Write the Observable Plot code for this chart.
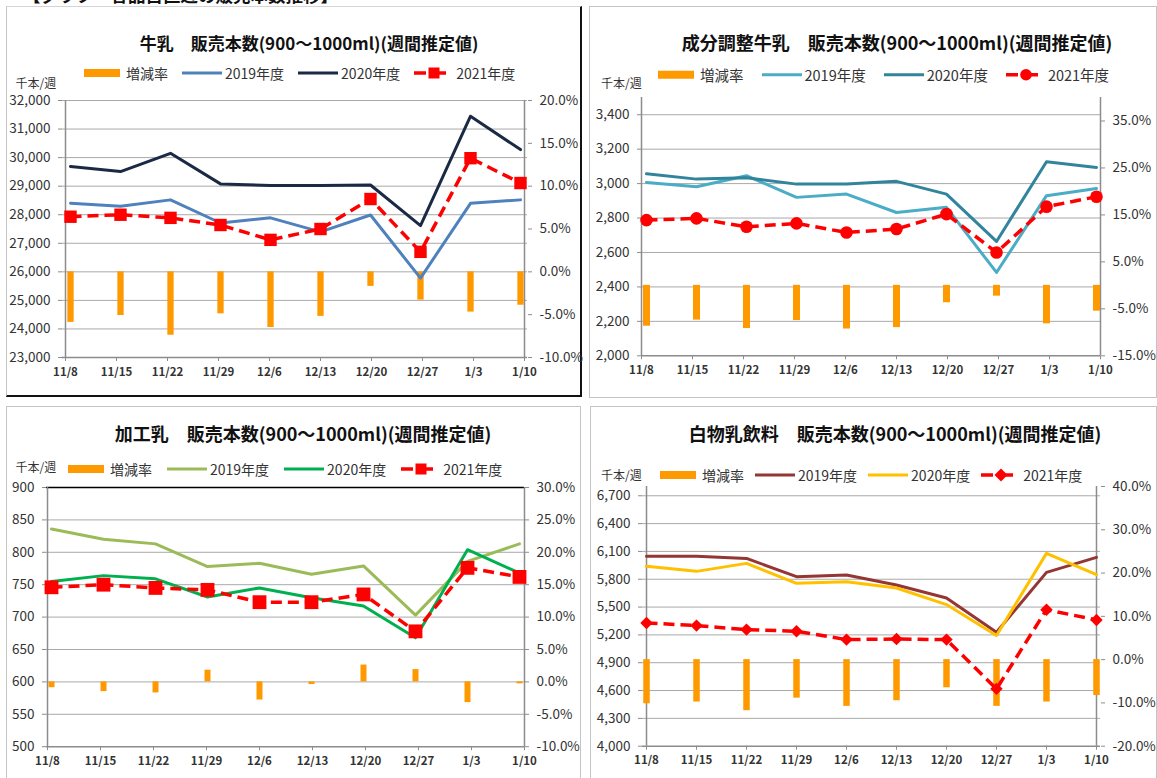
<!DOCTYPE html>
<html><head><meta charset="utf-8">
<script src="https://cdn.jsdelivr.net/npm/d3@7"></script>
<script src="https://cdn.jsdelivr.net/npm/@observablehq/plot@0.6"></script>
<style>
html,body{margin:0;padding:0;background:#fff;}
body{width:1157px;height:778px;overflow:hidden;position:relative;font-family:"Noto Sans CJK JP","Noto Sans",sans-serif;}
#root{position:absolute;left:0;top:0;width:1157px;height:778px;}
#header{position:absolute;left:23px;top:-14px;font-size:17.5px;font-weight:bold;line-height:18px;white-space:nowrap;color:#111;}
.panel{position:absolute;box-sizing:border-box;background:#fff;border:1px solid #c4c4c4;}
.panel.p1{border-right:2px solid #111;border-bottom:2px solid #111;border-top:1px solid #d4d4d4;border-left:1px solid #c4c4c4;}
.title{position:absolute;font-weight:bold;font-size:18px;white-space:nowrap;transform:translate(-50%,-50%);color:#111;line-height:1;}
.legend{position:absolute;display:flex;align-items:center;font-size:14px;white-space:nowrap;transform:translateY(-50%);color:#333;line-height:1;}
.legend .item{display:flex;align-items:center;}
.legend svg{display:block;}
.unit{position:absolute;font-size:12px;transform:translateY(-50%);color:#333;white-space:nowrap;line-height:1;}
.layer{position:absolute;}
.layer svg{overflow:visible;max-width:none;}
</style></head><body>
<div id="header">【グラフ　各品目直近の販売本数推移】</div>
<div id="root"></div>
<script>
// ---------- data ----------
const weeks = ["11/8", "11/15", "11/22", "11/29", "12/6", "12/13", "12/20", "12/27", "1/3", "1/10"];
const seriesNames = ["増減率", "2019年度", "2020年度", "2021年度"];

// 牛乳
const milk2019 = [28400, 28300, 28520, 27710, 27890, 27400, 27990, 25780, 28400, 28520];
const milk2020 = [29690, 29510, 30150, 29080, 29020, 29020, 29040, 27620, 31450, 30280];
const milk2021 = [27930, 28000, 27890, 27640, 27120, 27500, 28550, 26700, 29980, 29110];
const milkRate = [-5.9, -5.1, -7.4, -4.9, -6.5, -5.2, -1.7, -3.3, -4.7, -3.9];
const milkLeftTicks = [23000, 24000, 25000, 26000, 27000, 28000, 29000, 30000, 31000, 32000];
const milkRightTicks = [-10, -5, 0, 5, 10, 15, 20];

// 成分調整牛乳
const adj2019 = [3007, 2982, 3046, 2920, 2939, 2832, 2862, 2484, 2930, 2972];
const adj2020 = [3057, 3026, 3034, 2997, 2997, 3013, 2939, 2664, 3127, 3094];
const adj2021 = [2788, 2798, 2749, 2769, 2716, 2736, 2823, 2600, 2866, 2924];
const adjRate = [-8.7, -7.4, -9.2, -7.5, -9.3, -9.0, -3.7, -2.3, -8.2, -5.5];
const adjLeftTicks = [2000, 2200, 2400, 2600, 2800, 3000, 3200, 3400];
const adjRightTicks = [-15, -5, 5, 15, 25, 35];

// 加工乳
const proc2019 = [836, 820, 813, 778, 783, 766, 779, 703, 786, 813];
const proc2020 = [755, 764, 759, 731, 745, 730, 717, 668, 804, 768];
const proc2021 = [746, 750, 745, 742, 723, 723, 735, 678, 776, 762];
const procRate = [-0.9, -1.5, -1.7, 1.8, -2.8, -0.4, 2.6, 1.9, -3.2, -0.3];
const procLeftTicks = [500, 550, 600, 650, 700, 750, 800, 850, 900];
const procRightTicks = [-10, -5, 0, 5, 10, 15, 20, 25, 30];

// 白物乳飲料
const bev2019 = [6047, 6047, 6025, 5828, 5846, 5738, 5598, 5228, 5874, 6036];
const bev2020 = [5939, 5885, 5971, 5756, 5774, 5706, 5527, 5193, 6079, 5849];
const bev2021 = [5329, 5300, 5257, 5239, 5149, 5156, 5149, 4618, 5472, 5361];
const bevRate = [-10.2, -9.8, -11.8, -8.9, -10.8, -9.5, -6.5, -10.8, -9.8, -8.3];
const bevLeftTicks = [4000, 4300, 4600, 4900, 5200, 5500, 5800, 6100, 6400, 6700];
const bevRightTicks = [-20, -10, 0, 10, 20, 30, 40];

// ---------- styles / layout ----------
const FONT = '"Noto Sans CJK JP", "Noto Sans", sans-serif';
const ORANGE = "#FF9900", RED = "#FF0000", GRID = "#A9A9A9", AXIS = "#8C8C8C", TEXT = "#333333";
const ML = 70, MR = 70, MT = 14, MB = 30;

const panels = [
  {title: "牛乳　販売本数(900～1000ml)(週間推定値)", titleSize: 17, s: [milk2019, milk2020, milk2021], rate: milkRate,
   colors: ["#4F81BD", "#1B2A44"], symbol: "square", r: 7,
   leftDomain: [23000, 32000], leftTicks: milkLeftTicks, rightDomain: [-10, 20], rightTicks: milkRightTicks, topRule: false,
   box: [6, 6, 576, 391], cls: "p1", plot: [62, 527, 100, 357], barW: 6.3,
   titleXY: [309, 41.7], legendXY: [84, 72.7], legendGap: 14, legendSize: 14, unitXY: [15.5, 83]},
  {title: "成分調整牛乳　販売本数(900～1000ml)(週間推定値)", titleSize: 18, s: [adj2019, adj2020, adj2021], rate: adjRate,
   colors: ["#4BACC6", "#31849B"], symbol: "circle", r: 6.3,
   leftDomain: [2000, 3500], leftTicks: adjLeftTicks, rightDomain: [-15, 40], rightTicks: adjRightTicks, topRule: false,
   box: [589, 6, 568, 392], cls: "", plot: [640.5, 1099.5, 96.7, 355], barW: 7,
   titleXY: [897, 41.7], legendXY: [658, 75], legendGap: 18, legendSize: 14.5, unitXY: [601, 82.7]},
  {title: "加工乳　販売本数(900～1000ml)(週間推定値)", titleSize: 18, s: [proc2019, proc2020, proc2021], rate: procRate,
   colors: ["#9BBB59", "#00B050"], symbol: "square", r: 7.8,
   leftDomain: [500, 900], leftTicks: procLeftTicks, rightDomain: [-10, 30], rightTicks: procRightTicks, topRule: true,
   box: [6, 406, 575, 390], cls: "", plot: [45.5, 523.5, 486.5, 745.7], barW: 6,
   titleXY: [303, 433.3], legendXY: [68, 469], legendGap: 15, legendSize: 14, unitXY: [15.5, 467]},
  {title: "白物乳飲料　販売本数(900～1000ml)(週間推定値)", titleSize: 18, s: [bev2019, bev2020, bev2021], rate: bevRate,
   colors: ["#943634", "#FFC000"], symbol: "diamond2", r: 5.6,
   leftDomain: [4000, 6800], leftTicks: bevLeftTicks, rightDomain: [-20, 40], rightTicks: bevRightTicks, topRule: false,
   box: [590, 406, 567, 390], cls: "", plot: [641.5, 1099.5, 486, 745.7], barW: 6.5,
   titleXY: [895, 433], legendXY: [660, 475], legendGap: 11, legendSize: 14, unitXY: [601, 475]}
];

const root = document.getElementById("root");

function el(tag, cls, css, html) {
  const e = document.createElement(tag);
  if (cls) e.className = cls;
  Object.assign(e.style, css || {});
  if (html != null) e.innerHTML = html;
  root.appendChild(e);
  return e;
}

function markerSVG(symbol, cx, cy, color) {
  if (symbol === "square") return `<rect x="${cx - 5.5}" y="${cy - 5.5}" width="11" height="11" fill="${color}"/>`;
  if (symbol === "circle") return `<circle cx="${cx}" cy="${cy}" r="5.8" fill="${color}"/>`;
  return `<polygon points="${cx},${cy - 6.5} ${cx + 6.5},${cy} ${cx},${cy + 6.5} ${cx - 6.5},${cy}" fill="${color}"/>`;
}

function legendHTML(p) {
  const g = p.legendGap;
  const items = [];
  items.push(`<div class="item" style="margin-right:${g}px"><svg width="36" height="14" style="margin-right:6px"><rect x="0" y="3" width="36" height="8" fill="${ORANGE}"/></svg><span>${seriesNames[0]}</span></div>`);
  items.push(`<div class="item" style="margin-right:${g}px"><svg width="40" height="14" style="margin-right:3px"><line x1="0" x2="40" y1="7" y2="7" stroke="${p.colors[0]}" stroke-width="3"/></svg><span>${seriesNames[1]}</span></div>`);
  items.push(`<div class="item" style="margin-right:${g}px"><svg width="40" height="14" style="margin-right:3px"><line x1="0" x2="40" y1="7" y2="7" stroke="${p.colors[1]}" stroke-width="3"/></svg><span>${seriesNames[2]}</span></div>`);
  items.push(`<div class="item"><svg width="40" height="14" style="margin-right:2px"><line x1="0" x2="40" y1="7" y2="7" stroke="${RED}" stroke-width="3.5" stroke-dasharray="12,8"/>${markerSVG(p.symbol, 20, 7, RED)}</svg><span>${seriesNames[3]}</span></div>`);
  return items.join("");
}

function addLayer(p, opts) {
  const [x0, x1, y0, y1] = p.plot;
  const W = x1 - x0 + ML + MR, H = y1 - y0 + MT + MB;
  const svg = Plot.plot(Object.assign({
    width: W, height: H, marginLeft: ML, marginRight: MR, marginTop: MT, marginBottom: MB,
    style: {background: "transparent", fontFamily: FONT, fontSize: "13.5px", color: TEXT, overflow: "visible", maxWidth: "none"}
  }, opts));
  const div = el("div", "layer", {left: (x0 - ML) + "px", top: (y0 - MT) + "px", width: W + "px", height: H + "px"});
  div.appendChild(svg);
}

for (const p of panels) {
  const [bx, by, bw, bh] = p.box;
  el("div", "panel " + p.cls, {left: bx + "px", top: by + "px", width: bw + "px", height: bh + "px"});
  el("div", "title", {left: p.titleXY[0] + "px", top: p.titleXY[1] + "px", fontSize: p.titleSize + "px"}, p.title);
  el("div", "unit", {left: p.unitXY[0] + "px", top: p.unitXY[1] + "px"}, "千本/週");
  el("div", "legend", {left: p.legendXY[0] + "px", top: p.legendXY[1] + "px", fontSize: p.legendSize + "px"}, legendHTML(p));

  const lineData = p.s.map(arr => weeks.map((w, i) => ({week: w, value: arr[i]})));
  const rateData = weeks.map((w, i) => ({week: w, rate: p.rate[i]}));
  const inset = p.barW / 2 + 0.4;

  // Layer A: gridlines, axis lines, left axis, category axis
  addLayer(p, {
    x: {type: "point", domain: weeks, padding: 0},
    y: {domain: p.leftDomain},
    marks: [
      Plot.ruleY(p.leftTicks.slice(1), {stroke: GRID, strokeWidth: 1}),
      p.topRule ? Plot.ruleY([p.leftDomain[1]], {stroke: "#000", strokeWidth: 1.4}) : null,
      Plot.ruleY([p.leftDomain[0]], {stroke: AXIS, strokeWidth: 1.5}),
      Plot.ruleX([weeks[0], weeks[weeks.length - 1]], {stroke: AXIS, strokeWidth: 1.5}),
      Plot.axisY({anchor: "left", ticks: p.leftTicks, tickFormat: d3.format(","), tickSize: 4, tickPadding: 8,
                  stroke: AXIS, fill: TEXT, fontSize: 13.5, label: null}),
      Plot.axisX({anchor: "bottom", tickSize: 4, tickPadding: 6, stroke: AXIS, fill: TEXT,
                  fontSize: 11.5, fontWeight: "bold", label: null})
    ]
  });

  // Layer B: change-rate bars on the secondary (right) axis
  addLayer(p, {
    x: {type: "point", domain: weeks, padding: 0, inset, axis: null},
    y: {domain: p.rightDomain},
    marks: [
      Plot.ruleX(rateData, {x: "week", y1: () => 0, y2: "rate", stroke: ORANGE, strokeWidth: p.barW, strokeLinecap: "butt"}),
      Plot.axisY({anchor: "right", ticks: p.rightTicks, tickFormat: d => d.toFixed(1) + "%", tickSize: 4, tickPadding: 8,
                  stroke: AXIS, fill: TEXT, fontSize: 13.5, label: null})
    ]
  });

  // Layer C: yearly lines
  addLayer(p, {
    x: {type: "point", domain: weeks, padding: 0, inset, axis: null},
    y: {domain: p.leftDomain, axis: null},
    marks: [
      Plot.line(lineData[0], {x: "week", y: "value", stroke: p.colors[0], strokeWidth: 3}),
      Plot.line(lineData[1], {x: "week", y: "value", stroke: p.colors[1], strokeWidth: 3}),
      Plot.line(lineData[2], {x: "week", y: "value", stroke: RED, strokeWidth: 3.5, strokeDasharray: "11,6", strokeLinecap: "butt"}),
      Plot.dot(lineData[2], {x: "week", y: "value", symbol: p.symbol, r: p.r, fill: RED, stroke: "none"})
    ]
  });
}
</script>
</body></html>
